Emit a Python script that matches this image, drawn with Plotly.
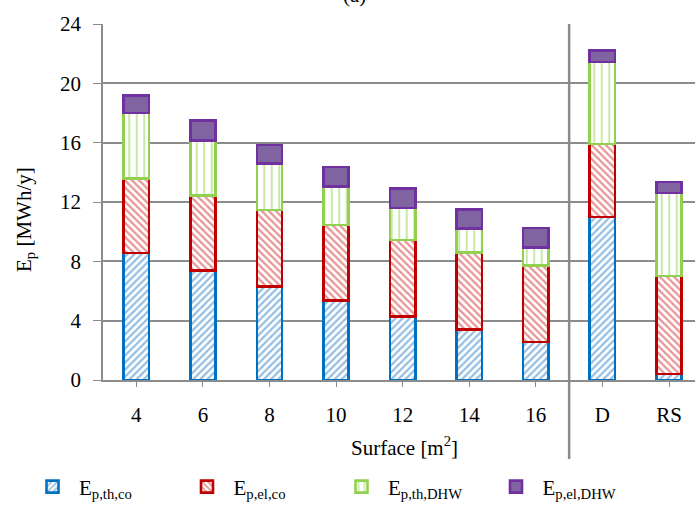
import plotly.graph_objects as go

categories = ["4", "6", "8", "10", "12", "14", "16", "D", "RS"]
ep_th_co = [8.55, 7.4, 6.3, 5.35, 4.3, 3.4, 2.55, 11.0, 0.4]
ep_el_co = [5.05, 5.05, 5.15, 5.1, 5.15, 5.2, 5.15, 4.9, 6.6]
ep_th_dhw = [4.4, 3.7, 3.15, 2.6, 2.15, 1.6, 1.25, 5.55, 5.6]
ep_el_dhw = [1.2, 1.35, 1.25, 1.3, 1.3, 1.3, 1.3, 0.75, 0.75]
y_ticks = [0, 4, 8, 12, 16, 20, 24]

FONT = "Liberation Serif"
W, H = 695, 506
ML, MR, MT, MB = 103, 0, 24, 126
PW, PH = W - ML - MR, H - MT - MB
x_range = [-0.5, 8.39]

def px_x(px):
    return (px - ML) / PW

def px_y(py):
    return (H - MB - py) / PH

series = [
    ("E<sub>p,th,co</sub>", ep_th_co, "#0070C0", dict(shape="/", fgcolor="#2A7CC7", bgcolor="white", size=5, solidity=0.45)),
    ("E<sub>p,el,co</sub>", ep_el_co, "#C00000", dict(shape="\\", fgcolor="#D02828", bgcolor="white", size=5, solidity=0.45)),
    ("E<sub>p,th,DHW</sub>", ep_th_dhw, "#92D050", dict(shape="|", fgcolor="#92D050", bgcolor="white", size=7.5, solidity=0.28)),
    ("E<sub>p,el,DHW</sub>", ep_el_dhw, "#7030A0", None),
]

fig = go.Figure()
for name, vals, lc, pat in series:
    marker = dict(line=dict(color=lc, width=2.6))
    if pat is None:
        marker["color"] = "#8064A2"
    else:
        marker["color"] = "white"
        marker["pattern"] = pat
    fig.add_trace(go.Bar(x=categories, y=vals, name=name, marker=marker))

grid_color = "#8C8C8C"
sep_x = (6.5 - x_range[0]) / (x_range[1] - x_range[0])

fig.update_layout(
    width=W, height=H,
    margin=dict(l=ML, r=MR, t=MT, b=MB, pad=0, autoexpand=False),
    barmode="stack",
    bargap=0.62,
    plot_bgcolor="white",
    paper_bgcolor="white",
    font=dict(family=FONT, size=21, color="black"),
    xaxis=dict(
        type="category", range=x_range, automargin=False,
        showline=True, linecolor=grid_color, linewidth=1.5,
        ticks="outside", ticklen=5, tickcolor=grid_color, tickwidth=1,
        ticklabelstandoff=10,
        tickfont=dict(family=FONT, size=21),
        showgrid=False,
    ),
    yaxis=dict(
        range=[0, 24], tickvals=y_ticks, automargin=False,
        showline=True, linecolor=grid_color, linewidth=1.5,
        ticks="outside", ticklen=8, tickcolor=grid_color, tickwidth=1,
        ticklabelstandoff=8,
        tickfont=dict(family=FONT, size=21),
        showgrid=True, gridcolor=grid_color, gridwidth=1.5,
        zeroline=False,
    ),
    legend=dict(
        orientation="h", traceorder="normal",
        x=px_x(26), xanchor="left",
        y=px_y(487), yanchor="middle",
        itemwidth=43,
        entrywidth=96.5, entrywidthmode="pixels",
        font=dict(family=FONT, size=21),
        bgcolor="rgba(0,0,0,0)",
    ),
    shapes=[
        dict(type="line", xref="paper", yref="paper",
             x0=sep_x, x1=sep_x, y0=px_y(459), y1=1,
             line=dict(color=grid_color, width=2.5)),
    ],
    annotations=[
        dict(text="(a)", xref="paper", yref="paper", x=px_x(354), y=px_y(9),
             xanchor="center", yanchor="bottom", showarrow=False,
             font=dict(family=FONT, size=21)),
        dict(text="E<sub>p</sub> [MWh/y]", xref="paper", yref="paper",
             x=px_x(25), y=px_y(220), xanchor="center", yanchor="middle",
             textangle=-90, showarrow=False, font=dict(family=FONT, size=21)),
        dict(text="Surface [m<sup>2</sup>]", xref="paper", yref="paper",
             x=px_x(404), y=px_y(446), xanchor="center", yanchor="middle",
             showarrow=False, font=dict(family=FONT, size=21)),
    ],
)

fig.write_html(
    "out.html",
    config={"displayModeBar": False},
    post_script="document.body.style.margin='0';document.body.style.padding='0';",
)
